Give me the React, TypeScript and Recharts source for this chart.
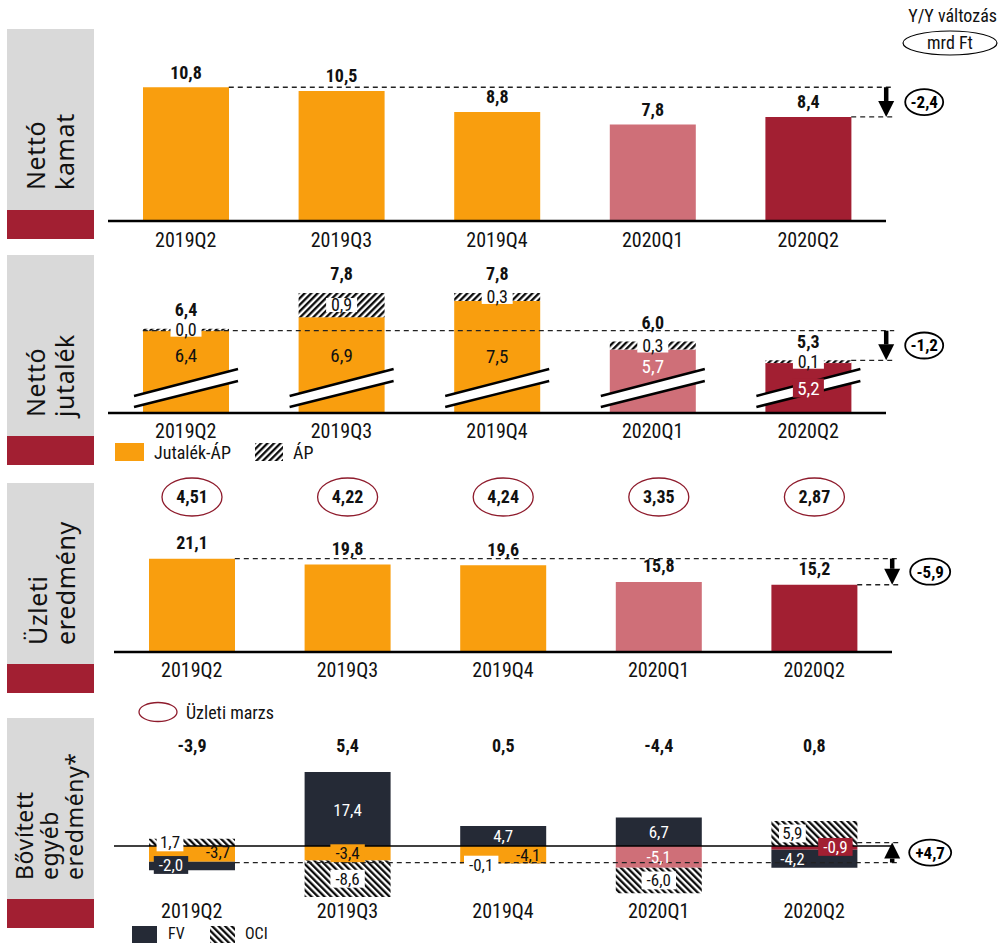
import React from "react";
import { BarChart, Bar, XAxis, YAxis, Cell, LabelList, ReferenceLine } from "recharts";

// ---- data ----
const quarters = ["2019Q2", "2019Q3", "2019Q4", "2020Q1", "2020Q2"];
const netInterest = [10.8, 10.5, 8.8, 7.8, 8.4];
const feeCore = [6.4, 6.9, 7.5, 5.7, 5.2];
const feeAP = [0.0, 0.9, 0.3, 0.3, 0.1];
const feeTotal = [6.4, 7.8, 7.8, 6.0, 5.3];
const operating = [21.1, 19.8, 19.6, 15.8, 15.2];
const opMargin = [4.51, 4.22, 4.24, 3.35, 2.87];
const oceOther = [-3.7, -3.4, -4.1, -5.1, -0.9];
const oceFV = [-2.0, 17.4, 4.7, 6.7, -4.2];
const oceOCI = [1.7, -8.6, -0.1, -6.0, 5.9];
const oceTotal = [-3.9, 5.4, 0.5, -4.4, 0.8];
const yoyLabels = ["-2,4", "-1,2", "-5,9", "+4,7"];

// ---- styling ----
const NARROW = '"Liberation Sans Narrow", "Arial Narrow", "Roboto Condensed", "DejaVu Sans Condensed", sans-serif';
const GOTHIC = '"Noto Sans", "DejaVu Sans", sans-serif';
const ORANGE = "#F99E0E";
const PINK = "#CF6F78";
const DARKRED = "#A21F32";
const NAVY = "#252A36";
const GRAY = "#D9D9D9";
const INK = "#111";
const periodColor = [ORANGE, ORANGE, ORANGE, PINK, DARKRED];
const BAR = 86;

const fmt = (v: number, d = 1) => v.toFixed(d).replace(".", ",");

const p1Data = quarters.map((q, i) => ({ q, v: netInterest[i] }));
const p2Data = quarters.map((q, i) => ({ q, core: feeCore[i], ap: feeAP[i], total: feeTotal[i] }));
const p3Data = quarters.map((q, i) => ({ q, v: operating[i], m: opMargin[i] }));
const p4Data = quarters.map((q, i) => ({ q, other: oceOther[i], fv: oceFV[i], oci: oceOCI[i], total: oceTotal[i] }));

// label placement in panel 2 / 4 (layout only)
const coreDy = [25, 38, 55, 17, 25];
const coreInk = [INK, INK, INK, "#fff", "#fff"];
const coreBg = [null, null, null, null, DARKRED];
const otherTag = [
  { dx: 26, dy: -2, c: INK, bg: null },
  { dx: 0, dy: 0, c: INK, bg: ORANGE },
  { dx: 25, dy: 0, c: INK, bg: null },
  { dx: 0, dy: 0, c: "#fff", bg: null },
  { dx: 21, dy: -1, c: "#fff", bg: DARKRED },
];
const fvTag = [
  { dx: -21, dy: -1, c: "#fff", bg: NAVY },
  { dx: 0, dy: 1, c: "#fff", bg: null },
  { dx: 0, dy: 0, c: "#fff", bg: null },
  { dx: 0, dy: 0, c: "#fff", bg: null },
  { dx: -22, dy: 0, c: "#fff", bg: null },
];
const ociTag = [
  { dx: -22, dy: 0, c: INK, bg: "#fff" },
  { dx: 0, dy: 0, c: INK, bg: "#fff" },
  { dx: -22, dy: 1, c: INK, bg: "#fff" },
  { dx: 0, dy: 0, c: INK, bg: "#fff" },
  { dx: -22, dy: 0, c: INK, bg: "#fff" },
];

const tickStyle = { fontFamily: NARROW, fontSize: 20, fill: INK };

const box = (p: any) => {
  const vb = p.viewBox || p;
  return { x: vb.x ?? p.x, y: vb.y ?? p.y, w: vb.width ?? p.width, h: vb.height ?? p.height };
};

function Tag({ x, y, text, color, bg, size = 17, bold = false, cw = 7.6, bh = 0 }: any) {
  const w = text.length * cw + 4;
  const hh = bh || size * 1.05;
  return (
    <g>
      {bg && <rect x={x - w / 2} y={y - hh / 2} width={w} height={hh} fill={bg} />}
      <text x={x} y={y} dy="0.35em" textAnchor="middle" fontFamily={NARROW} fontSize={size}
        fontWeight={bold ? 700 : 400} fill={color}>{text}</text>
    </g>
  );
}

const topLabel = (gap: number) => (p: any) => {
  const { x, y, w } = box(p);
  return <Tag x={x + w / 2} y={y - gap} text={fmt(Number(p.value))} color={INK} size={18} bold />;
};

const fixedTop = (yPos: number) => (p: any) => {
  const { x, w } = box(p);
  return <Tag x={x + w / 2} y={yPos} text={fmt(Number(p.value))} color={INK} size={18} bold />;
};

const segTag = (tags: any[]) => (p: any) => {
  const { x, y, w, h } = box(p);
  const t = tags[p.index];
  if (!t) return null;
  return <Tag x={x + w / 2 + t.dx} y={y + h / 2 + t.dy} text={fmt(Number(p.value))} color={t.c} bg={t.bg} />;
};

const yoyShape = (label: string, startLeft: boolean, rx: number) => (p: any) => {
  const { x1, y1, x2, y2 } = p;
  const half = BAR / 2;
  const ax = x2 + 78;
  const end = x2 + 86;
  const dir = y2 > y1 ? 1 : -1;
  const baseY = y2 - dir * 16;
  return (
    <g>
      <line x1={startLeft ? x1 - half : x1 + half} y1={y1} x2={end} y2={y1} stroke="#222" strokeWidth={1.3} strokeDasharray="5 4" />
      <line x1={x2 + half} y1={y2} x2={end} y2={y2} stroke="#222" strokeWidth={1.3} strokeDasharray="5 4" />
      <line x1={ax} y1={y1} x2={ax} y2={baseY} stroke="#000" strokeWidth={4.5} />
      <polygon points={`${ax - 8},${baseY} ${ax + 8},${baseY} ${ax},${y2}`} fill="#000" />
      <ellipse cx={x2 + 116} cy={(y1 + y2) / 2} rx={rx} ry={13} fill="#fff" stroke="#000" strokeWidth={1.8} />
      <text x={x2 + 116} y={(y1 + y2) / 2} dy="0.35em" textAnchor="middle" fontFamily={NARROW}
        fontSize={17} fontWeight={700} fill="#000">{label}</text>
    </g>
  );
};

// panel 2 plot bottom in chart coords
const P2_BOTTOM = 168;

function BreakBar(p: any) {
  const { x, y, width, index } = p;
  const b = P2_BOTTOM;
  const l = x - 9;
  const r = x + width + 9;
  return (
    <g>
      <rect x={x} y={y} width={width} height={Math.max(0, b - y)} fill={periodColor[index] || p.fill} />
      <polygon points={`${l},${b - 17} ${r},${b - 44} ${r},${b - 32} ${l},${b - 6}`} fill="#fff" />
      <line x1={l} y1={b - 17} x2={r} y2={b - 44} stroke="#000" strokeWidth={2.5} />
      <line x1={l} y1={b - 6} x2={r} y2={b - 32} stroke="#000" strokeWidth={2.5} />
    </g>
  );
}

const coreLabel = (p: any) => {
  const { x, y, w } = box(p);
  const i = p.index;
  return <Tag x={x + w / 2} y={y + coreDy[i]} text={fmt(Number(p.value))} color={coreInk[i]} bg={coreBg[i]} size={19} cw={9} bh={19} />;
};

const apLabel = (p: any) => {
  const { x, y, w, h } = box(p);
  return <Tag x={x + w / 2} y={y + h / 2} text={fmt(Number(p.value))} color={INK} bg="#fff" size={18} cw={9} bh={14} />;
};

const marginEllipse = (p: any) => {
  const { x, w } = box(p);
  const cx = x + w / 2;
  return (
    <g>
      <ellipse cx={cx} cy={27} rx={30} ry={19} fill="#fff" stroke="#8E1B2C" strokeWidth={1.3} />
      <text x={cx} y={27} dy="0.35em" textAnchor="middle" fontFamily={NARROW} fontSize={18} fontWeight={700} fill={INK}>
        {fmt(Number(p.value), 2)}
      </text>
    </g>
  );
};

function Hatch({ id, angle }: { id: string; angle: number }) {
  return (
    <pattern id={id} width="4.6" height="4.6" patternUnits="userSpaceOnUse" patternTransform={`rotate(${angle})`}>
      <rect width="4.6" height="4.6" fill="#fff" />
      <line x1="1.2" y1="0" x2="1.2" y2="4.6" stroke="#000" strokeWidth="2.2" />
    </pattern>
  );
}

function Decor() {
  const side = [
    { top: 29, lines: ["Nettó", "kamat"], xs: [45, 74], start: 190, size: 25 },
    { top: 255, lines: ["Nettó", "jutalék"], xs: [45, 74], start: 417, size: 25 },
    { top: 483, lines: ["Üzleti", "eredmény"], xs: [47, 75], start: 645, size: 25 },
    { top: 718, lines: ["Bővített", "egyéb", "eredmény*"], xs: [33, 58, 83], start: 880, size: 23 },
  ];
  return (
    <svg width={1000} height={943} style={{ position: "absolute", left: 0, top: 0 }}>
      <defs>
        <Hatch id="legAP" angle={45} />
        <Hatch id="legOCI" angle={-45} />
      </defs>
      {side.map((s) => (
        <g key={s.top}>
          <rect x={7} y={s.top} width={87} height={181} fill={GRAY} />
          <rect x={7} y={s.top + 181} width={87} height={29} fill={DARKRED} />
          {s.lines.map((t, i) => (
            <text key={t} transform={`translate(${s.xs[i]},${s.start}) rotate(-90)`} fontFamily={GOTHIC}
              fontSize={s.size} fill={INK} letterSpacing={0.6}>{t}</text>
          ))}
        </g>
      ))}
      <text x={997} y={16} dy="0.35em" textAnchor="end" fontFamily={NARROW} fontSize={18} fill={INK}>Y/Y változás</text>
      <ellipse cx={950} cy={43} rx={47} ry={12} fill="#fff" stroke="#000" strokeWidth={1.2} />
      <text x={950} y={43} dy="0.35em" textAnchor="middle" fontFamily={NARROW} fontSize={18} fill={INK}>mrd Ft</text>

      <rect x={115} y={443} width={29} height={18} fill={ORANGE} />
      <text x={154} y={453} dy="0.35em" fontFamily={NARROW} fontSize={18} fill={INK}>Jutalék-ÁP</text>
      <rect x={255} y={443} width={28} height={18} fill="url(#legAP)" />
      <text x={293} y={453} dy="0.35em" fontFamily={NARROW} fontSize={18} fill={INK}>ÁP</text>

      <ellipse cx={158} cy={712} rx={19} ry={9.5} fill="#fff" stroke="#8E1B2C" strokeWidth={1.3} />
      <text x={186} y={713} dy="0.35em" fontFamily={NARROW} fontSize={18} fill={INK}>Üzleti marzs</text>

      <rect x={132} y={926} width={25} height={17} fill={NAVY} />
      <text x={168} y={933} dy="0.35em" fontFamily={NARROW} fontSize={16} fill={INK}>FV</text>
      <rect x={210} y={926} width={25} height={17} fill="url(#legOCI)" />
      <text x={245} y={933} dy="0.35em" fontFamily={NARROW} fontSize={16} fill={INK}>OCI</text>
    </svg>
  );
}

function Panel1() {
  return (
    <BarChart width={1000} height={256} data={p1Data} barSize={BAR}
      margin={{ top: 60, right: 114, bottom: 5, left: 108 }}>
      <XAxis dataKey="q" interval={0} height={30} axisLine={{ stroke: "#000", strokeWidth: 2.5 }}
        tickLine={false} tickSize={0} tickMargin={12} tick={tickStyle} />
      <YAxis hide domain={[0, 13]} />
      <Bar dataKey="v" isAnimationActive={false}>
        {p1Data.map((d, i) => <Cell key={d.q} fill={periodColor[i]} />)}
        <LabelList dataKey="v" content={topLabel(15)} />
      </Bar>
      <ReferenceLine ifOverflow="visible"
        segment={[{ x: quarters[0], y: netInterest[0] }, { x: quarters[4], y: netInterest[4] }]}
        shape={yoyShape(yoyLabels[0], false, 19)} />
    </BarChart>
  );
}

function Panel2() {
  return (
    <BarChart width={1000} height={203} data={p2Data} barSize={BAR}
      margin={{ top: 2, right: 114, bottom: 5, left: 108 }}>
      <defs>
        <Hatch id="hatchAP" angle={45} />
      </defs>
      <XAxis dataKey="q" interval={0} height={30} axisLine={{ stroke: "#000", strokeWidth: 2.5 }}
        tickLine={false} tickSize={0} tickMargin={11} tick={tickStyle} />
      <YAxis hide domain={[3.35, 9.5]} allowDataOverflow />
      <Bar dataKey="core" stackId="fee" shape={BreakBar} isAnimationActive={false}>
        {p2Data.map((d, i) => <Cell key={d.q} fill={periodColor[i]} />)}
        <LabelList dataKey="core" content={coreLabel} />
      </Bar>
      <Bar dataKey="ap" stackId="fee" fill="url(#hatchAP)" minPointSize={2} isAnimationActive={false}>
        <LabelList dataKey="ap" content={apLabel} />
        <LabelList dataKey="total" content={topLabel(19)} />
      </Bar>
      <ReferenceLine ifOverflow="visible"
        segment={[{ x: quarters[0], y: feeTotal[0] }, { x: quarters[4], y: feeTotal[4] }]}
        shape={yoyShape(yoyLabels[1], true, 19)} />
    </BarChart>
  );
}

function Panel3() {
  return (
    <BarChart width={1000} height={217} data={p3Data} barSize={BAR}
      margin={{ top: 67, right: 108, bottom: 5, left: 114 }}>
      <XAxis dataKey="q" interval={0} height={30} axisLine={{ stroke: "#000", strokeWidth: 2.5 }}
        tickLine={false} tickSize={0} tickMargin={11} tick={tickStyle} />
      <YAxis hide domain={[0, 26]} />
      <Bar dataKey="v" isAnimationActive={false}>
        {p3Data.map((d, i) => <Cell key={d.q} fill={periodColor[i]} />)}
        <LabelList dataKey="v" content={topLabel(16)} />
        <LabelList dataKey="m" content={marginEllipse} />
      </Bar>
      <ReferenceLine ifOverflow="visible"
        segment={[{ x: quarters[0], y: operating[0] }, { x: quarters[4], y: operating[4] }]}
        shape={yoyShape(yoyLabels[2], false, 20)} />
    </BarChart>
  );
}

function Panel4() {
  return (
    <BarChart width={1000} height={202} data={p4Data} barSize={BAR} stackOffset="sign"
      margin={{ top: 31, right: 108, bottom: 5, left: 114 }}>
      <defs>
        <Hatch id="hatchOCI" angle={-45} />
      </defs>
      <XAxis dataKey="q" interval={0} height={30} axisLine={false}
        tickLine={false} tickSize={0} tickMargin={7} tick={tickStyle} />
      <YAxis hide domain={[-12, 20]} />
      <Bar dataKey="other" stackId="oce" isAnimationActive={false}>
        {p4Data.map((d, i) => <Cell key={d.q} fill={periodColor[i]} />)}
        <LabelList dataKey="other" content={segTag(otherTag)} />
      </Bar>
      <Bar dataKey="fv" stackId="oce" fill={NAVY} isAnimationActive={false}>
        <LabelList dataKey="fv" content={segTag(fvTag)} />
      </Bar>
      <Bar dataKey="oci" stackId="oce" fill="url(#hatchOCI)" isAnimationActive={false}>
        <LabelList dataKey="oci" content={segTag(ociTag)} />
        <LabelList dataKey="total" content={fixedTop(16)} />
      </Bar>
      <ReferenceLine y={0} stroke="#000" strokeWidth={1.6} />
      <ReferenceLine ifOverflow="visible"
        segment={[{ x: quarters[0], y: oceTotal[0] }, { x: quarters[4], y: oceTotal[4] }]}
        shape={yoyShape(yoyLabels[3], false, 21)} />
    </BarChart>
  );
}

export default function App() {
  return (
    <div style={{ position: "absolute", left: 0, top: 0, width: 1000, height: 943, overflow: "hidden", background: "#fff", fontFamily: NARROW }}>
      <Decor />
      <div style={{ position: "absolute", left: 0, top: 0 }}><Panel1 /></div>
      <div style={{ position: "absolute", left: 0, top: 245 }}><Panel2 /></div>
      <div style={{ position: "absolute", left: 0, top: 470 }}><Panel3 /></div>
      <div style={{ position: "absolute", left: 0, top: 730 }}><Panel4 /></div>
    </div>
  );
}
